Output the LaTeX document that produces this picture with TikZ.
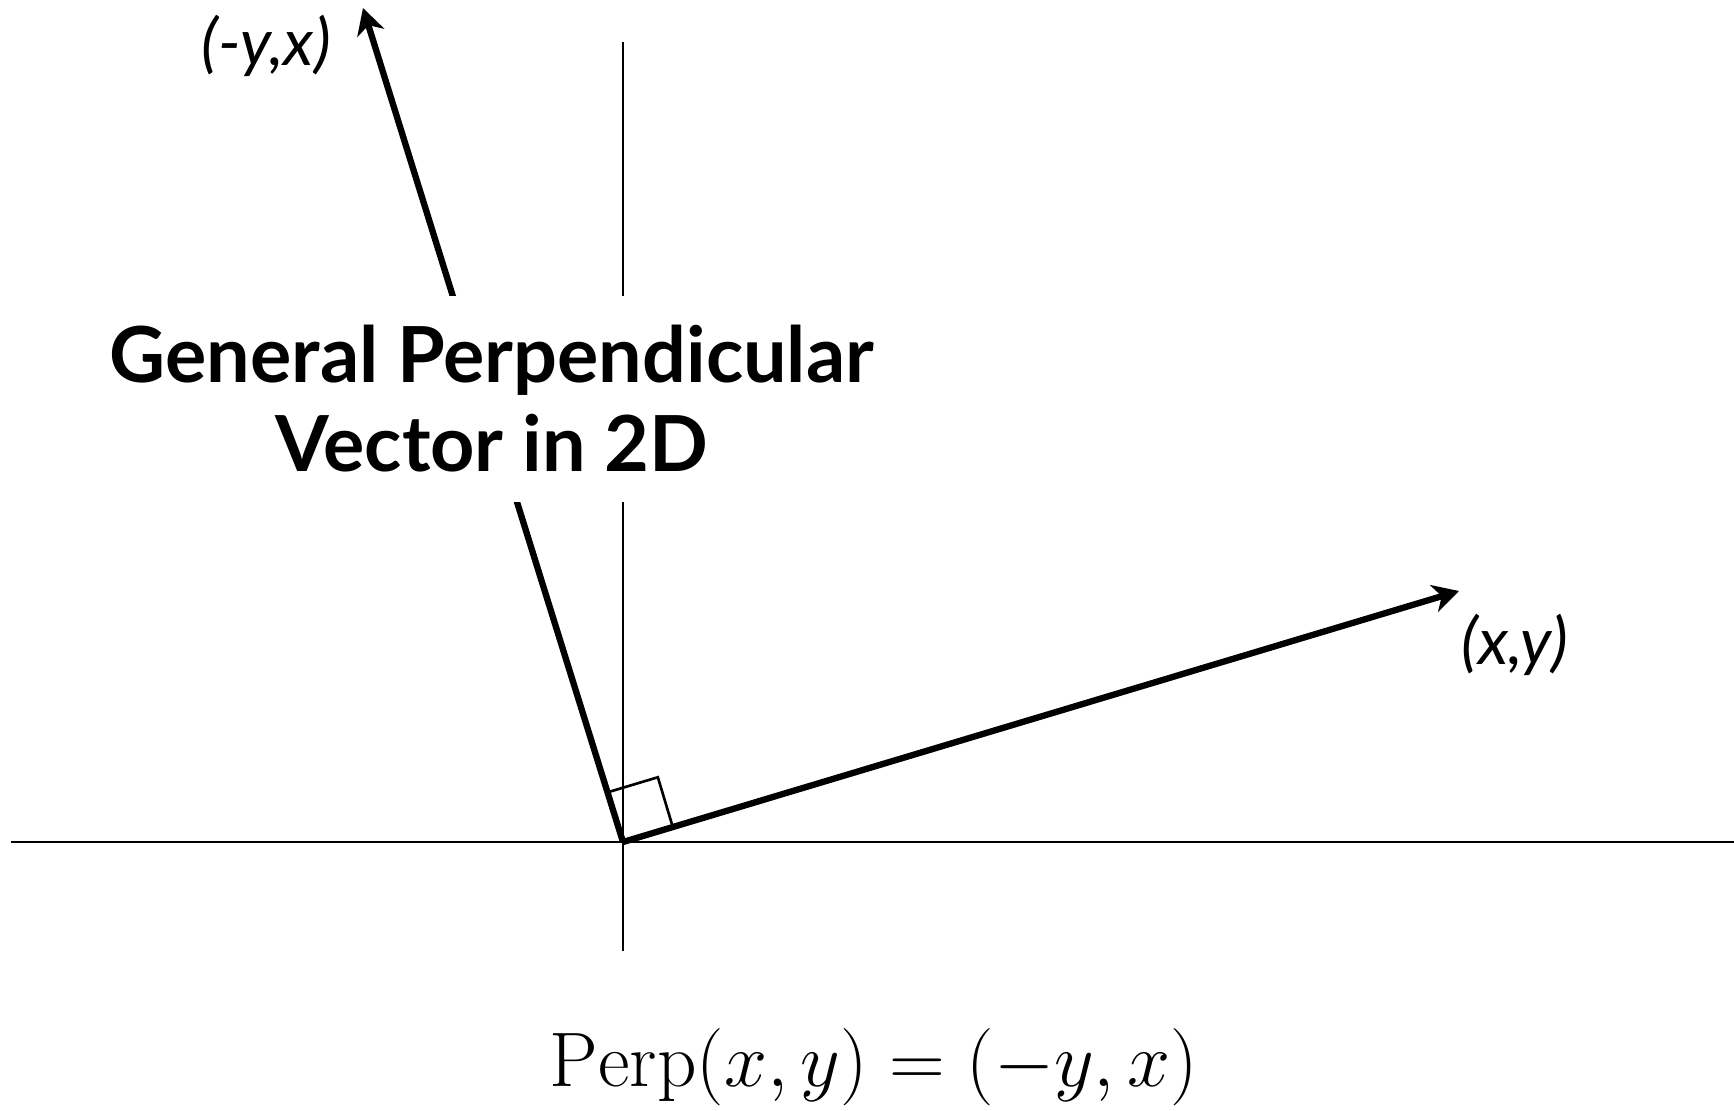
\RequirePackage{fix-cm}
\documentclass[tikz,border=0pt]{standalone}
\usepackage{amsmath}
\usepackage{fontspec}
\newfontfamily\lato{Lato}
\usetikzlibrary{arrows.meta}

\begin{document}
\begin{tikzpicture}[
  axis/.style={line width=0.75pt},
  vec/.style={line width=1.8pt, -{Stealth[length=2.6mm,width=2.8mm,inset=0.8mm]}},
  coordlab/.style={font=\lato\itshape\fontsize{18.5}{22}\selectfont},
  title/.style={fill=white, align=center, inner xsep=2mm, inner ysep=3mm,
    font=\lato\bfseries\fontsize{22}{25.3}\selectfont}
]
  \useasboundingbox (0,0) rectangle (17.34,11.10);
  \coordinate (o)  at (6.23,2.68);
  \coordinate (xy) at (14.59,5.19);
  \coordinate (yx) at (3.63,11.02);
  \coordinate (xl) at (0.11,2.68);
  \coordinate (xr) at (17.34,2.68);
  \coordinate (yb) at (6.23,1.59);
  \coordinate (yt) at (6.23,10.68);
  % axes
  \draw[axis] (xl) -- (xr);
  \draw[axis] (yb) -- (yt);
  % the two vectors
  \draw[vec] (o) -- (xy);
  \draw[vec] (o) -- (yx);
  % right angle mark
  \draw[axis, shift={(o)}, rotate=16.7] (0.52,0) -- (0.52,0.52) -- (0,0.52);
  \node[title] (ttl) at (4.92,7.11) {General Perpendicular\\Vector in 2D};
  \node[coordlab] (lxy) at (15.15,4.65) {(x,y)};
  \node[coordlab] (lyx) at (2.66,10.64) {(-y,x)};
  \node[font=\fontsize{22}{26}\selectfont, anchor=base] (perp) at (8.74,0.24) {$\mathrm{Perp}(x,y)=(-y,x)$};
\end{tikzpicture}
\end{document}
